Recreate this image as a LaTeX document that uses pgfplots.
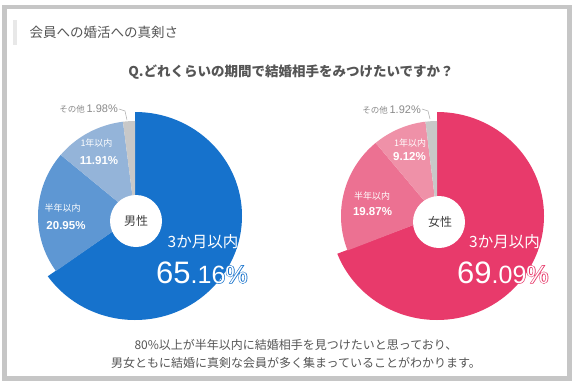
\documentclass[border=0pt]{standalone}
\usepackage{fontspec}
\setmainfont{Noto Sans CJK JP}
\newfontfamily\num{Liberation Sans}
\newfontfamily\numO[FakeBold=5]{Liberation Sans}
\newfontfamily\jpO[FakeBold=4]{Noto Sans CJK JP}
\usepackage{pgfplots}
\usepackage{pgfplotstable}
\pgfplotsset{compat=1.18}

\definecolor{frame}{HTML}{C6C6C6}
\definecolor{tbar}{HTML}{E8E8E8}
\definecolor{txt}{HTML}{555555}
\definecolor{mA}{HTML}{1672CC}
\definecolor{mB}{HTML}{5E97D3}
\definecolor{mC}{HTML}{94B4D9}
\definecolor{oth}{HTML}{C8C8C8}
\definecolor{fA}{HTML}{E83A6B}
\definecolor{fB}{HTML}{EC7192}
\definecolor{fC}{HTML}{EF91A8}
\definecolor{lbl}{HTML}{8A8A8A}

% values (percent), clockwise from 12 o'clock
\pgfplotstableread{
label value
3m 65.16
6m 20.95
1y 11.91
other 1.98
}\maletable
\pgfplotstableread{
label value
3m 69.09
6m 19.87
1y 9.12
other 1.92
}\femaletable

\newcommand\sector[7]{%
  \fill[#7] (axis cs:#1,#2) -- ++(#3:#5pt and #6pt) arc[start angle=#3, end angle=#4, x radius=#5pt, y radius=#6pt] -- cycle;}

\begin{document}
\begin{tikzpicture}
\pgfplotstablegetelem{0}{value}\of\maletable \let\Ma\pgfplotsretval
\pgfplotstablegetelem{1}{value}\of\maletable \let\Mb\pgfplotsretval
\pgfplotstablegetelem{2}{value}\of\maletable \let\Mc\pgfplotsretval
\pgfplotstablegetelem{3}{value}\of\maletable \let\Md\pgfplotsretval
\pgfplotstablegetelem{0}{value}\of\femaletable \let\Fa\pgfplotsretval
\pgfplotstablegetelem{1}{value}\of\femaletable \let\Fb\pgfplotsretval
\pgfplotstablegetelem{2}{value}\of\femaletable \let\Fc\pgfplotsretval
\pgfplotstablegetelem{3}{value}\of\femaletable \let\Fd\pgfplotsretval
\pgfmathsetmacro\MA{90-3.6*\Ma}
\pgfmathsetmacro\MB{\MA-3.6*\Mb}
\pgfmathsetmacro\MC{\MB-3.6*\Mc}
\pgfmathsetmacro\MD{\MC-3.6*\Md}
\pgfmathsetmacro\FA{90-3.6*\Fa}
\pgfmathsetmacro\FB{\FA-3.6*\Fb}
\pgfmathsetmacro\FC{\FB-3.6*\Fc}
\pgfmathsetmacro\FD{\FC-3.6*\Fd}
\begin{axis}[x=1pt,y=1pt,xmin=0,xmax=572,ymin=0,ymax=381,
  hide axis,clip=false,scale only axis]
% frame
\fill[white] (axis cs:0,0) rectangle (axis cs:572,381);
\fill[frame] (axis cs:2,0) rectangle (axis cs:572,376);
\fill[white] (axis cs:7,5) rectangle (axis cs:567,371.5);
\fill[tbar] (axis cs:13,336) rectangle (axis cs:17,361);
\node[anchor=west,text=txt,font=\fontsize{13.5}{14}\selectfont] at (axis cs:26,349) {会員への婚活への真剣さ};
\node[text=txt,font=\bfseries\fontsize{13.5}{14}\selectfont] at (axis cs:291,309) {Q.どれくらいの期間で結婚相手をみつけたいですか？};

% male pie
\sector{135}{165}{90}{\MA}{107}{104}{mA}
\sector{135}{165}{\MA}{\MB}{97}{95}{mB}
\sector{135}{165}{\MB}{\MC}{97}{95}{mC}
\sector{135}{165}{\MC}{\MD}{97}{95}{oth}
\fill[white] (axis cs:136,160) circle[radius=26pt];
% female pie
\sector{437}{165}{90}{\FA}{107}{104}{fA}
\sector{437}{165}{\FA}{\FB}{96}{95}{fB}
\sector{437}{165}{\FB}{\FC}{96}{95}{fC}
\sector{437}{165}{\FC}{\FD}{96}{95}{oth}
\fill[white] (axis cs:439,159) circle[radius=26pt];

% leader lines
\draw[lbl!70,line width=0.5pt] (axis cs:119,272) -- (axis cs:125,270) -- (axis cs:127,261);
\draw[lbl!70,line width=0.5pt] (axis cs:422,272) -- (axis cs:428,270) -- (axis cs:430,262);

% male labels
\node[anchor=east,text=lbl,inner sep=0pt] at (axis cs:118,272) {{\fontsize{8.5}{9}\selectfont その他}\,{\num\fontsize{11}{12}\selectfont 1.98\%}};
\node[text=white,font=\fontsize{9}{10}\selectfont] at (axis cs:96.5,238) {1年以内};
\node[text=white,font=\num\bfseries\fontsize{11.5}{12}\selectfont] at (axis cs:99,220) {11.91\%};
\node[text=white,font=\fontsize{9}{10}\selectfont] at (axis cs:62.5,173) {半年以内};
\node[text=white,font=\num\bfseries\fontsize{11.5}{12}\selectfont] at (axis cs:66,155) {20.95\%};
\node[text=black!75,font=\fontsize{12}{13}\selectfont] at (axis cs:136,160) {男性};
\node[text=mA,font=\jpO\fontsize{15.5}{16}\selectfont] at (axis cs:203,139) {3か月以内};
\node[text=white,font=\fontsize{15.5}{16}\selectfont] at (axis cs:203,139) {3か月以内};
\node[anchor=base west,text=mA,inner sep=0pt] at (axis cs:156,98) {{\numO\fontsize{31}{31}\selectfont 65}{\numO\fontsize{25}{25}\selectfont .16\%}};
\node[anchor=base west,text=white,inner sep=0pt] at (axis cs:156,98) {{\num\fontsize{31}{31}\selectfont 65}{\num\fontsize{25}{25}\selectfont .16\%}};

% female labels
\node[anchor=east,text=lbl,inner sep=0pt] at (axis cs:421,271) {{\fontsize{8.5}{9}\selectfont その他}\,{\num\fontsize{11}{12}\selectfont 1.92\%}};
\node[text=white,font=\fontsize{9}{10}\selectfont] at (axis cs:410,238) {1年以内};
\node[text=white,font=\num\bfseries\fontsize{11.5}{12}\selectfont] at (axis cs:409.5,224) {9.12\%};
\node[text=white,font=\fontsize{9}{10}\selectfont] at (axis cs:372,185) {半年以内};
\node[text=white,font=\num\bfseries\fontsize{11.5}{12}\selectfont] at (axis cs:372.5,169) {19.87\%};
\node[text=black!75,font=\fontsize{12}{13}\selectfont] at (axis cs:440,159) {女性};
\node[text=fA,font=\jpO\fontsize{15.5}{16}\selectfont] at (axis cs:504.5,139) {3か月以内};
\node[text=white,font=\fontsize{15.5}{16}\selectfont] at (axis cs:504.5,139) {3か月以内};
\node[anchor=base west,text=fA,inner sep=0pt] at (axis cs:457,98) {{\numO\fontsize{31}{31}\selectfont 69}{\numO\fontsize{25}{25}\selectfont .09\%}};
\node[anchor=base west,text=white,inner sep=0pt] at (axis cs:457,98) {{\num\fontsize{31}{31}\selectfont 69}{\num\fontsize{25}{25}\selectfont .09\%}};

% bottom text
\node[text=txt,font=\fontsize{12}{13}\selectfont] at (axis cs:296,36) {80\%以上が半年以内に結婚相手を見つけたいと思っており、};
\node[text=txt,font=\fontsize{12}{13}\selectfont] at (axis cs:296,18) {男女ともに結婚に真剣な会員が多く集まっていることがわかります。};
\end{axis}
\end{tikzpicture}
\end{document}
